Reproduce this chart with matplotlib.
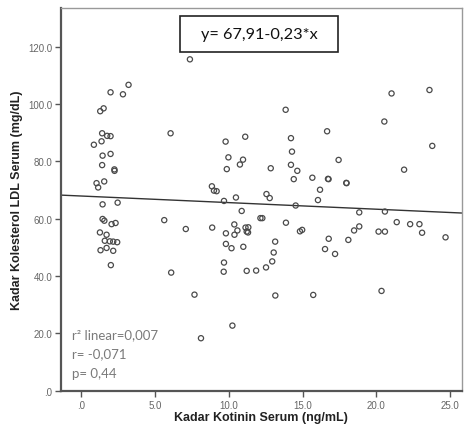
import matplotlib
matplotlib.use("Agg")
import matplotlib.pyplot as plt
from matplotlib.patches import Rectangle
import numpy as np

# kotinin serum (ng/mL) vs LDL serum (mg/dL)
kotinin = [3.20, 1.98, 2.82, 1.51, 1.28, 1.41, 1.75, 1.98, 0.85, 1.37,
           1.44, 1.98, 1.41, 2.24, 2.25, 1.03, 1.14, 1.55, 1.44, 2.46,
           1.44, 1.56, 2.05, 2.32, 1.26, 1.71, 1.59, 1.93, 2.16, 2.43,
           1.30, 1.71, 2.16, 2.00,
           7.36, 6.05, 9.78, 11.11, 9.97, 10.96, 10.75, 9.86, 8.85, 8.99,
           9.17, 9.67, 10.48, 10.87, 12.14, 12.27, 5.62, 7.08, 8.87, 10.37,
           9.80, 10.38, 10.58, 11.13, 11.32, 11.21, 11.30, 9.80, 10.18, 10.98,
           9.67, 9.65, 11.21, 11.85, 6.09, 7.67, 10.24, 8.11,
           13.85, 16.66, 14.21, 14.28, 12.84, 14.21, 14.64, 17.44, 14.40, 15.66,
           16.72, 16.76, 17.96, 17.98, 16.18, 12.55, 12.77, 16.04, 14.53, 18.84,
           13.87, 14.82, 14.97, 18.49, 18.84, 20.15, 20.58, 13.14, 16.77, 18.10,
           13.04, 16.52, 17.20, 12.94, 12.52, 13.15, 15.72, 20.35,
           21.03, 23.60, 20.54, 23.79, 21.88, 20.58, 21.38, 22.29, 22.92, 23.10,
           24.69]
ldl = [106.7, 104.1, 103.4, 98.5, 97.5, 89.8, 88.9, 88.8, 85.8, 87.0,
       82.0, 82.6, 78.7, 77.2, 76.7, 72.4, 70.9, 73.0, 65.0, 65.6,
       59.9, 59.3, 58.1, 58.5, 55.2, 54.4, 52.3, 52.1, 52.0, 51.8,
       49.0, 49.8, 48.8, 43.8,
       115.6, 89.8, 86.9, 88.6, 81.4, 80.6, 78.9, 77.3, 71.3, 69.8,
       69.6, 66.2, 67.4, 62.7, 60.2, 60.2, 59.5, 56.4, 56.9, 58.0,
       54.9, 54.4, 55.9, 56.9, 57.0, 55.5, 55.2, 51.2, 49.7, 50.2,
       44.7, 41.5, 41.8, 41.9, 41.2, 33.5, 22.7, 18.3,
       98.0, 90.5, 88.1, 83.4, 77.6, 78.8, 76.7, 80.5, 73.8, 74.3,
       73.9, 73.8, 72.5, 72.4, 70.1, 68.6, 67.2, 66.5, 64.6, 62.2,
       58.6, 55.6, 56.1, 55.9, 57.3, 55.5, 55.5, 52.0, 53.0, 52.6,
       48.2, 49.4, 47.7, 45.1, 43.0, 33.2, 33.4, 34.8,
       103.7, 104.9, 93.9, 85.4, 77.1, 62.5, 58.8, 58.1, 58.1, 55.1,
       53.5]

intercept = 67.91
slope = -0.23
x_ticks = [0, 5, 10, 15, 20, 25]
x_labels = [".0", "5.0", "10.0", "15.0", "20.0", "25.0"]
y_ticks = [0, 20, 40, 60, 80, 100, 120]
y_labels = [".0", "20.0", "40.0", "60.0", "80.0", "100.0", "120.0"]
stats = ["r\u00b2 linear=0,007", "r= -0,071", "p= 0,44"]

plt.rcParams['font.family'] = ['Liberation Sans', 'DejaVu Sans']

fig = plt.figure(figsize=(4.68, 4.35), dpi=100)
ax = fig.add_axes([0.130, 0.0996, 0.857, 0.879])

xmin, xmax = -1.39, 25.8
ax.set_xlim(xmin, xmax)
ax.set_ylim(0, 133.4)

ax.scatter(kotinin, ldl, s=14, facecolors='none', edgecolors='#4a4a4a',
           linewidths=0.9, zorder=3)

xl = np.array([xmin, xmax])
ax.plot(xl, intercept + slope * xl, color='#333333', lw=1.0, zorder=2)

ax.set_xticks(x_ticks)
ax.set_xticklabels(x_labels)
ax.set_yticks(y_ticks)
ax.set_yticklabels(y_labels)
ax.tick_params(axis='both', direction='out', length=4, width=1,
               color='#555555', labelsize=7, labelcolor='#666666', pad=2)
ax.tick_params(axis='x', pad=3)

for side in ['top', 'right']:
    ax.spines[side].set_color('#999999')
    ax.spines[side].set_linewidth(1.0)
for side in ['left', 'bottom']:
    ax.spines[side].set_color('#555555')
    ax.spines[side].set_linewidth(1.6)

ax.set_xlabel("Kadar Kotinin Serum (ng/mL)", fontsize=9, fontweight='bold',
              color='#222222', va='center')
ax.xaxis.set_label_coords(0.5, -0.068)
ax.set_ylabel("Kadar Kolesterol LDL Serum (mg/dL)", fontsize=9,
              fontweight='bold', color='#222222', va='center')
ax.yaxis.set_label_coords(-0.11, 0.5)

# equation box
ax.add_patch(Rectangle((0.297, 0.885), 0.394, 0.094, transform=ax.transAxes,
                       facecolor='white', edgecolor='#222222', lw=1.2,
                       zorder=4))
ax.text(0.494, 0.932, "y= 67,91-0,23*x", transform=ax.transAxes,
        ha='center', va='center', fontsize=11.7,
        family=['Lato', 'DejaVu Sans'], color='#111111', zorder=5)

for i, s in enumerate(stats):
    ax.text(0.027, 0.149 - i * 0.052, s, transform=ax.transAxes,
            ha='left', va='center', fontsize=9.5,
            family=['Lato', 'DejaVu Sans'], color='#7a7a7a')

fig.savefig("out.png", dpi=100)
